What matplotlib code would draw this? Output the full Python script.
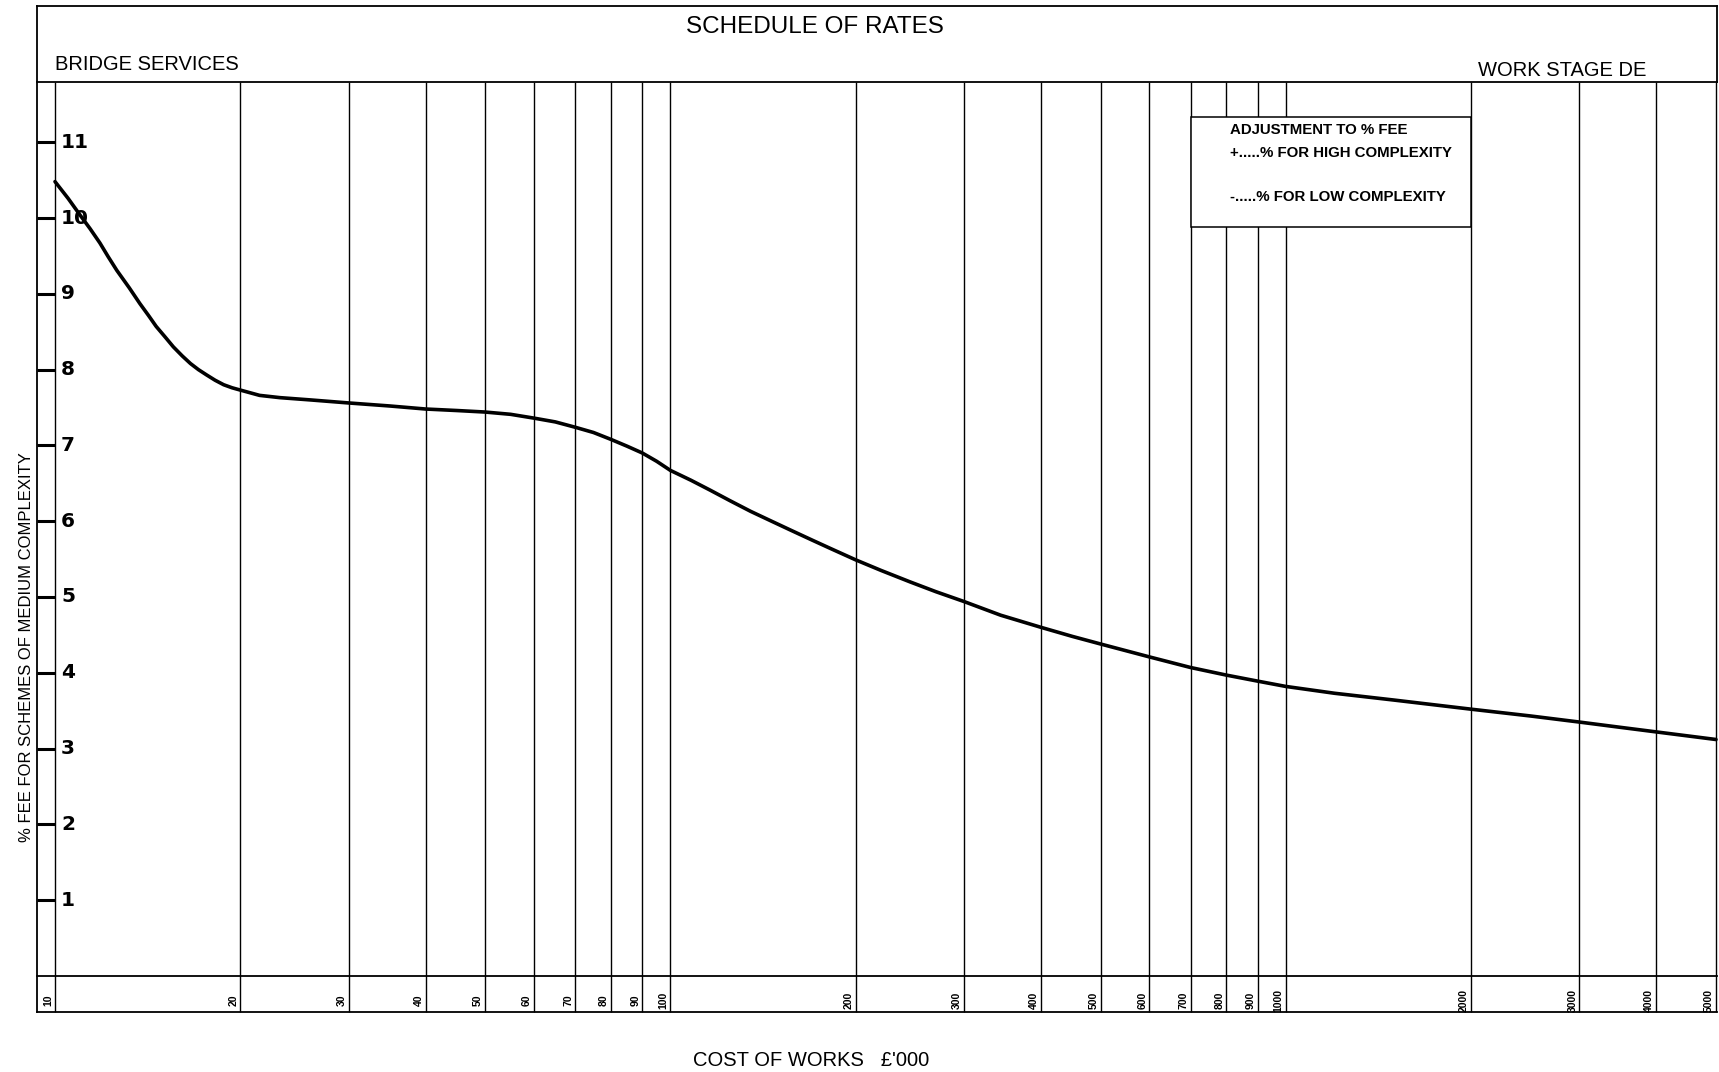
import matplotlib
matplotlib.use('Agg')
import matplotlib.pyplot as plt
import matplotlib.patches as mpatches
from matplotlib.lines import Line2D

W, H = 1719, 1072

# cost of works (GBP '000) grid lines and their labels
GRID_COST = [10, 20, 30, 40, 50, 60, 70, 80, 90,
             100, 200, 300, 400, 500, 600, 700, 800, 900,
             1000, 2000, 3000, 4000, 5000]
GRID_LABELS = [str(v) for v in GRID_COST]

# % fee axis
FEE_TICKS = [1, 2, 3, 4, 5, 6, 7, 8, 9, 10, 11]

# curve
COST = [10, 10.5, 10.98, 11.4, 11.83, 12.2, 12.6, 13.2, 13.74, 14.2, 14.6,
        15.1, 15.57, 16.1, 16.6, 17.1, 17.63, 18.2, 18.8, 19.4, 20,
        21.5, 23.2, 26, 30, 35, 40, 45, 50, 55, 60, 65, 70, 75, 80, 85, 90,
        95, 100, 108, 116, 125, 135, 146, 157, 170, 182, 200, 220, 245, 270,
        300, 344, 400, 450, 500, 600, 700, 800, 900, 1000, 1200, 1500, 2000,
        2500, 3000, 3500, 4000, 5000]
FEE = [10.48, 10.26, 10.04, 9.86, 9.67, 9.49, 9.31, 9.08, 8.87, 8.71, 8.57,
       8.43, 8.30, 8.18, 8.08, 8.00, 7.93, 7.86, 7.80, 7.76, 7.73,
       7.66, 7.63, 7.60, 7.56, 7.52, 7.48, 7.46, 7.44, 7.41, 7.36, 7.31,
       7.24, 7.17, 7.08, 6.99, 6.90, 6.79, 6.67, 6.54, 6.41, 6.27, 6.13,
       6.00, 5.88, 5.75, 5.64, 5.49, 5.35, 5.20, 5.07, 4.94, 4.76, 4.60,
       4.48, 4.38, 4.21, 4.07, 3.97, 3.89, 3.82, 3.73, 3.64, 3.52,
       3.43, 3.35, 3.28, 3.22, 3.12]

LEGEND_LINES = ['ADJUSTMENT TO % FEE',
                '+.....% FOR HIGH COMPLEXITY',
                '-.....% FOR LOW COMPLEXITY']

SANS = ['Liberation Sans', 'DejaVu Sans']


def fx(px):
    return px / W


def fy(py):
    return 1 - py / H


fig = plt.figure(figsize=(W / 100, H / 100), dpi=100)

# plot area in pixel terms
X0, X1 = 55, 1716
Y_ZERO, Y_TOP = 976, 82
PX_PER_UNIT = 75.8
ytop = (Y_ZERO - Y_TOP) / PX_PER_UNIT
ystrip = -(1012 - Y_ZERO) / PX_PER_UNIT

ax = fig.add_axes([fx(X0), fy(Y_ZERO), fx(X1 - X0), (Y_ZERO - Y_TOP) / H])
ax.set_xscale('log')
ax.set_xlim(10, 5000)
ax.set_ylim(0, ytop)
for s in ax.spines.values():
    s.set_visible(False)
ax.set_xticks([])
ax.set_xticks([], minor=True)
ax.set_yticks(FEE_TICKS)
ax.tick_params(axis='y', direction='out', length=13, width=2.2,
               labelleft=False, color='black')

# vertical grid lines running through the label strip
ax.vlines(GRID_COST, ystrip, ytop, colors='black', lw=1.0,
          clip_on=False, zorder=2)

# fee curve
ax.plot(COST, FEE, color='black', lw=2.6, solid_capstyle='round',
        solid_joinstyle='round', zorder=5, clip_on=False)

# adjustment box (covers the grid between the 700 and 2000 lines)
box_top = (Y_ZERO - 117) / PX_PER_UNIT
box_bot = (Y_ZERO - 227) / PX_PER_UNIT
ax.add_patch(mpatches.Rectangle((700, box_bot), 2000 - 700, box_top - box_bot,
                                facecolor='white', edgecolor='black', lw=1.1,
                                zorder=3))
for txt, py in zip(LEGEND_LINES, [130, 153, 197]):
    fig.text(fx(1230), fy(py), txt, ha='left', va='center', fontsize=10.8,
             fontweight='bold', family=SANS)

# y tick numbers, drawn inside next to the axis
for v in FEE_TICKS:
    ax.annotate(str(v), (0, v), xycoords=('axes fraction', 'data'),
                xytext=(6, 0), textcoords='offset pixels', ha='left',
                va='center', fontsize=14.5, fontweight='bold',
                family=['DejaVu Sans'])

# cost labels in the bottom strip, just left of each line
ylab = -(1000 - Y_ZERO) / PX_PER_UNIT
for v, lab in zip(GRID_COST, GRID_LABELS):
    ax.annotate(lab, (v, ylab), xytext=(-2, 0), textcoords='offset pixels',
                rotation=90, ha='right', va='center', fontsize=7.5,
                fontweight='bold', family=SANS, annotation_clip=False)


# sheet frame
def hline(py, xa=37, xb=1717, lw=1.3):
    fig.add_artist(Line2D([fx(xa), fx(xb)], [fy(py), fy(py)], color='black',
                          lw=lw, transform=fig.transFigure))


def vline(px, ya, yb, lw=1.3):
    fig.add_artist(Line2D([fx(px), fx(px)], [fy(ya), fy(yb)], color='black',
                          lw=lw, transform=fig.transFigure))


hline(6)
hline(Y_TOP)
hline(Y_ZERO)
hline(1012)
vline(37, 6, 1012)
vline(1717, 6, Y_TOP)

# header texts
fig.text(fx(815), fy(27), 'SCHEDULE OF RATES', ha='center', va='center',
         fontsize=17.5, family=SANS)
fig.text(fx(55), fy(64), 'BRIDGE SERVICES', ha='left', va='center',
         fontsize=14.5, family=SANS)
fig.text(fx(1478), fy(71), 'WORK STAGE DE', ha='left', va='center',
         fontsize=14.5, family=SANS)

# axis titles
fig.text(fx(27), fy(647), '% FEE FOR SCHEMES OF MEDIUM COMPLEXITY',
         rotation=90, ha='center', va='center', fontsize=12, family=SANS)
fig.text(fx(811), fy(1060), "COST OF WORKS   \u00a3'000", ha='center',
         va='center', fontsize=14.5, family=SANS)

fig.savefig('out.png', dpi=100)
